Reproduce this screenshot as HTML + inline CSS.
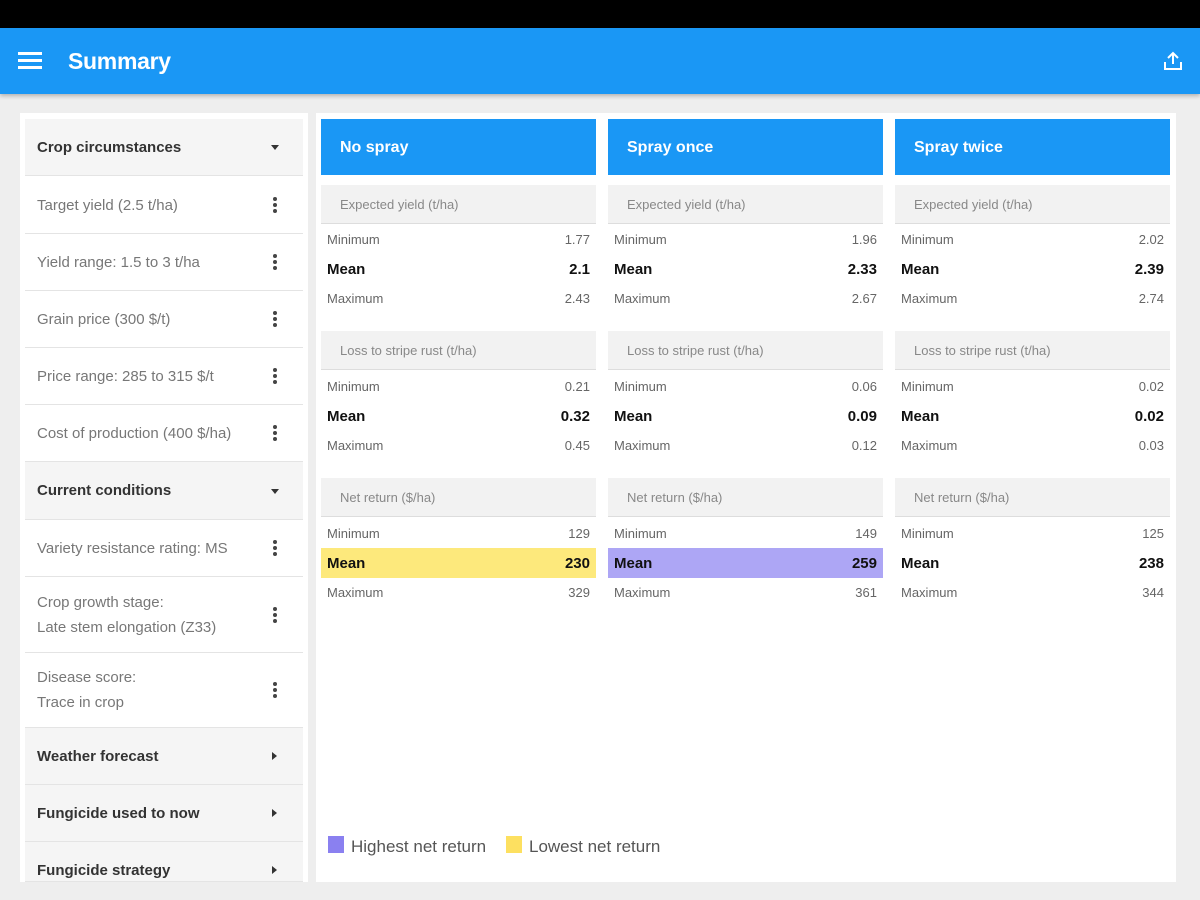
<!DOCTYPE html>
<html><head><meta charset="utf-8"><style>
*{margin:0;padding:0;box-sizing:border-box}
body{width:1200px;height:900px;background:#eeeeee;font-family:"Liberation Sans",sans-serif;position:relative;overflow:hidden}
.abs{position:absolute}
.sb{left:0;top:0;width:1200px;height:28px;background:#000}
.ab{left:0;top:28px;width:1200px;height:66px;background:#1a97f5;box-shadow:0 2px 4px rgba(0,0,0,.25)}
.lp{left:20px;top:113px;width:288px;height:769px;background:#fff}
.rp{left:316px;top:113px;width:860px;height:769px;background:#fff}
.li{position:absolute;left:25px;width:278px;border-bottom:1px solid #e4e4e4;font-size:15px;color:#777;padding-left:12px;display:flex;align-items:center}
.li.h{background:#f5f5f5;color:#333;font-weight:bold}
.dots{position:absolute;right:26px;top:50%;transform:translateY(-50%);width:4px}
.dots i{display:block;width:4px;height:4px;border-radius:2px;background:#444;margin:2px 0}
.tri{position:absolute;right:24px;top:50%;margin-top:-2px;border-left:4px solid transparent;border-right:4px solid transparent;border-top:5px solid #333}
.trr{position:absolute;right:26px;top:50%;margin-top:-4px;border-top:4px solid transparent;border-bottom:4px solid transparent;border-left:5px solid #333}
.col{position:absolute;top:119px;width:275px}
.ch{height:56px;background:#1a97f5;color:#fff;font-weight:bold;font-size:16px;padding-left:19px;line-height:58px}
.sh{position:absolute;left:0;width:275px;height:39px;background:#f2f2f2;color:#888;font-size:13px;padding-left:19px;line-height:39px;border-bottom:1px solid #ddd}
.r{position:absolute;left:0;width:275px;height:28px;font-size:13px;color:#666;padding:0 6px;display:flex;justify-content:space-between;align-items:center}
.r.m{font-size:15px;color:#111;font-weight:bold;height:30px}
</style></head><body>
<div class="abs sb"></div>
<div class="abs ab">
 <div class="abs" style="left:18px;top:24px;width:24px;height:3px;background:#fff;box-shadow:0 7px 0 #fff,0 14px 0 #fff"></div>
 <div class="abs" style="left:68px;top:20px;color:#fff;font-size:23px;font-weight:bold;letter-spacing:-0.3px">Summary</div>
 <svg class="abs" style="left:1162px;top:22px" width="22" height="22" viewBox="0 0 22 22"><path d="M11 3v11M6 8l5-5 5 5M3 12v7h16v-7" fill="none" stroke="#fff" stroke-width="2"/></svg>
</div>
<div class="abs lp"></div>
<div class="abs rp"></div>

<div class="li h" style="top:119px;height:57px">Crop circumstances<span class="tri"></span></div>
<div class="li" style="top:177px;height:57px">Target yield (2.5 t/ha)<span class="dots"><i></i><i></i><i></i></span></div>
<div class="li" style="top:234px;height:57px">Yield range: 1.5 to 3 t/ha<span class="dots"><i></i><i></i><i></i></span></div>
<div class="li" style="top:291px;height:57px">Grain price (300 $/t)<span class="dots"><i></i><i></i><i></i></span></div>
<div class="li" style="top:348px;height:57px">Price range: 285 to 315 $/t<span class="dots"><i></i><i></i><i></i></span></div>
<div class="li" style="top:405px;height:57px">Cost of production (400 $/ha)<span class="dots"><i></i><i></i><i></i></span></div>
<div class="li h" style="top:462px;height:58px">Current conditions<span class="tri"></span></div>
<div class="li" style="top:520px;height:57px">Variety resistance rating: MS<span class="dots"><i></i><i></i><i></i></span></div>
<div class="li" style="top:577px;height:76px;line-height:25px">Crop growth stage:<br>Late stem elongation (Z33)<span class="dots"><i></i><i></i><i></i></span></div>
<div class="li" style="top:653px;height:75px;line-height:25px">Disease score:<br>Trace in crop<span class="dots"><i></i><i></i><i></i></span></div>
<div class="li h" style="top:728px;height:57px">Weather forecast<span class="trr"></span></div>
<div class="li h" style="top:785px;height:57px">Fungicide used to now<span class="trr"></span></div>
<div class="li h" style="top:842px;height:40px;align-items:flex-start;padding-top:20px">Fungicide strategy<span class="trr" style="top:28px"></span></div>

<div class="col" style="left:321px">
 <div class="ch">No spray</div>
 <div class="sh" style="top:66px">Expected yield (t/ha)</div>
 <div class="r" style="top:106px"><span>Minimum</span><span>1.77</span></div>
 <div class="r m" style="top:135px"><span>Mean</span><span>2.1</span></div>
 <div class="r" style="top:165px"><span>Maximum</span><span>2.43</span></div>
 <div class="sh" style="top:212px">Loss to stripe rust (t/ha)</div>
 <div class="r" style="top:253px"><span>Minimum</span><span>0.21</span></div>
 <div class="r m" style="top:282px"><span>Mean</span><span>0.32</span></div>
 <div class="r" style="top:312px"><span>Maximum</span><span>0.45</span></div>
 <div class="sh" style="top:359px">Net return ($/ha)</div>
 <div class="r" style="top:400px"><span>Minimum</span><span>129</span></div>
 <div class="r m" style="top:429px;background:#fde97c"><span>Mean</span><span>230</span></div>
 <div class="r" style="top:459px"><span>Maximum</span><span>329</span></div>
</div>
<div class="col" style="left:608px">
 <div class="ch">Spray once</div>
 <div class="sh" style="top:66px">Expected yield (t/ha)</div>
 <div class="r" style="top:106px"><span>Minimum</span><span>1.96</span></div>
 <div class="r m" style="top:135px"><span>Mean</span><span>2.33</span></div>
 <div class="r" style="top:165px"><span>Maximum</span><span>2.67</span></div>
 <div class="sh" style="top:212px">Loss to stripe rust (t/ha)</div>
 <div class="r" style="top:253px"><span>Minimum</span><span>0.06</span></div>
 <div class="r m" style="top:282px"><span>Mean</span><span>0.09</span></div>
 <div class="r" style="top:312px"><span>Maximum</span><span>0.12</span></div>
 <div class="sh" style="top:359px">Net return ($/ha)</div>
 <div class="r" style="top:400px"><span>Minimum</span><span>149</span></div>
 <div class="r m" style="top:429px;background:#ada6f5"><span>Mean</span><span>259</span></div>
 <div class="r" style="top:459px"><span>Maximum</span><span>361</span></div>
</div>
<div class="col" style="left:895px">
 <div class="ch">Spray twice</div>
 <div class="sh" style="top:66px">Expected yield (t/ha)</div>
 <div class="r" style="top:106px"><span>Minimum</span><span>2.02</span></div>
 <div class="r m" style="top:135px"><span>Mean</span><span>2.39</span></div>
 <div class="r" style="top:165px"><span>Maximum</span><span>2.74</span></div>
 <div class="sh" style="top:212px">Loss to stripe rust (t/ha)</div>
 <div class="r" style="top:253px"><span>Minimum</span><span>0.02</span></div>
 <div class="r m" style="top:282px"><span>Mean</span><span>0.02</span></div>
 <div class="r" style="top:312px"><span>Maximum</span><span>0.03</span></div>
 <div class="sh" style="top:359px">Net return ($/ha)</div>
 <div class="r" style="top:400px"><span>Minimum</span><span>125</span></div>
 <div class="r m" style="top:429px"><span>Mean</span><span>238</span></div>
 <div class="r" style="top:459px"><span>Maximum</span><span>344</span></div>
</div>

<div class="abs" style="left:328px;top:836px;width:16px;height:17px;background:#8a80f0"></div>
<div class="abs" style="left:351px;top:837px;font-size:17px;color:#555">Highest net return</div>
<div class="abs" style="left:506px;top:836px;width:16px;height:17px;background:#fde060"></div>
<div class="abs" style="left:529px;top:837px;font-size:17px;color:#555">Lowest net return</div>
</body></html>
